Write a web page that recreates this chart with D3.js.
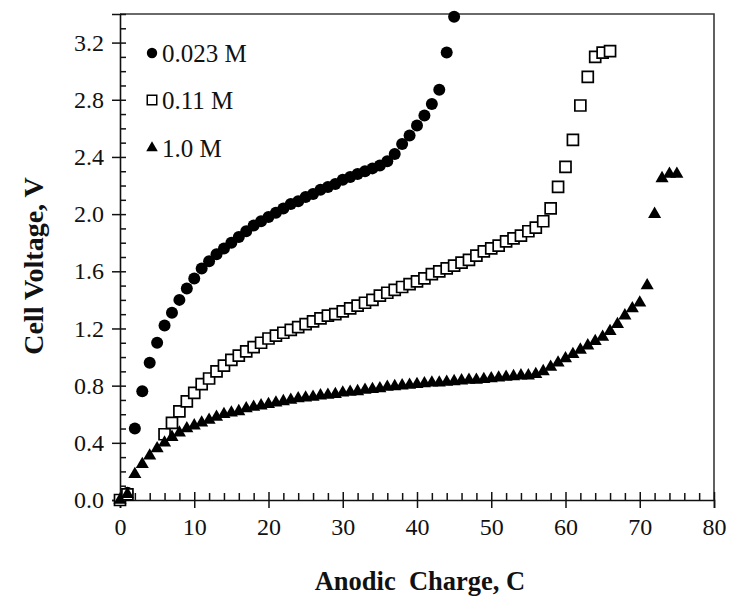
<!DOCTYPE html>
<html>
<head>
<meta charset="utf-8">
<script src="https://cdn.jsdelivr.net/npm/d3@7"></script>
<style>
  html, body { margin: 0; padding: 0; background: #fff; }
  svg { display: block; }
</style>
</head>
<body>
<svg id="chart" width="730" height="597"></svg>
<script>
// ---- data ----
const seriesNames = ["0.023 M", "0.11 M", "1.0 M"];

const chargeA = [0,1,2,3,4,5,6,7,8,9,10,11,12,13,14,15,16,17,18,19,20,21,22,23,24,25,26,27,28,29,30,31,32,33,34,35,36,37,38,39,40,41,42,43,44,45];
const voltA   = [0.00,0.05,0.50,0.76,0.96,1.10,1.22,1.31,1.40,1.48,1.55,1.62,1.67,1.72,1.76,1.80,1.84,1.88,1.92,1.95,1.98,2.01,2.04,2.07,2.09,2.12,2.14,2.17,2.19,2.21,2.24,2.26,2.28,2.30,2.32,2.34,2.37,2.42,2.49,2.55,2.62,2.69,2.77,2.87,3.13,3.38];

const chargeB = [0,1,6,7,8,9,10,11,12,13,14,15,16,17,18,19,20,21,22,23,24,25,26,27,28,29,30,31,32,33,34,35,36,37,38,39,40,41,42,43,44,45,46,47,48,49,50,51,52,53,54,55,56,57,58,59,60,61,62,63,64,65,66];
const voltB   = [0.00,0.04,0.46,0.54,0.62,0.69,0.75,0.81,0.85,0.90,0.94,0.98,1.01,1.04,1.07,1.10,1.13,1.15,1.17,1.19,1.21,1.23,1.25,1.27,1.29,1.30,1.32,1.34,1.36,1.38,1.40,1.43,1.45,1.47,1.49,1.51,1.53,1.55,1.58,1.60,1.62,1.64,1.66,1.68,1.71,1.74,1.76,1.78,1.81,1.83,1.85,1.88,1.905,1.95,2.04,2.19,2.33,2.52,2.76,2.96,3.10,3.13,3.14];

const chargeC = [0,1,2,3,4,5,6,7,8,9,10,11,12,13,14,15,16,17,18,19,20,21,22,23,24,25,26,27,28,29,30,31,32,33,34,35,36,37,38,39,40,41,42,43,44,45,46,47,48,49,50,51,52,53,54,55,56,57,58,59,60,61,62,63,64,65,66,67,68,69,70,71,72,73,74,75];
const voltC   = [0.00,0.04,0.18,0.25,0.31,0.36,0.40,0.44,0.47,0.50,0.52,0.54,0.56,0.58,0.60,0.61,0.62,0.64,0.65,0.66,0.67,0.68,0.69,0.70,0.71,0.715,0.72,0.73,0.735,0.74,0.75,0.755,0.76,0.77,0.775,0.78,0.79,0.795,0.80,0.805,0.81,0.815,0.82,0.82,0.825,0.83,0.835,0.84,0.84,0.845,0.85,0.855,0.86,0.865,0.87,0.87,0.88,0.90,0.93,0.96,0.99,1.02,1.05,1.08,1.11,1.14,1.18,1.23,1.29,1.34,1.38,1.50,2.00,2.25,2.28,2.28];

const xTicks = [0,10,20,30,40,50,60,70,80];
const yTicks = [0.0,0.4,0.8,1.2,1.6,2.0,2.4,2.8,3.2];
const xTitle = "Anodic\u00A0 Charge, C";
const yTitle = "Cell Voltage, V";

// ---- layout ----
const svg = d3.select("#chart");
const x = d3.scaleLinear().domain([0, 80]).range([120, 714]);
const y = d3.scaleLinear().domain([0, 3.4]).range([500, 14]);
const serif = "'Liberation Serif', 'Times New Roman', serif";

// frame (top + right)
svg.append("path")
  .attr("d", `M${x(0)},${y(3.4)}H${x(80)}V${y(0)}`)
  .attr("fill", "none").attr("stroke", "#3a3a3a").attr("stroke-width", 1.6);

// minor ticks
const xMinor = d3.range(0, 80.01, 2).filter(v => v % 10 !== 0);
const yMinor = d3.range(0, 3.41, 0.1).map(v => +v.toFixed(1)).filter(v => Math.abs(v*10 % 4) > 0.01);

const gx = svg.append("g").attr("transform", `translate(0,${y(0)})`);
gx.call(d3.axisBottom(x).tickValues(xMinor).tickSize(-7).tickFormat(""));
gx.call(g => g.selectAll(".tick line").attr("stroke", "#111").attr("stroke-width", 1.5));
const gx2 = svg.append("g").attr("transform", `translate(0,${y(0)})`);
gx2.call(d3.axisBottom(x).tickValues(xTicks).tickSize(8).tickPadding(10).tickFormat(d3.format("d")));
gx2.selectAll(".tick line").attr("y1", -8).attr("stroke", "#111").attr("stroke-width", 1.5);
gx2.select(".domain").attr("stroke", "#111").attr("stroke-width", 1.6);
gx2.selectAll(".tick text").attr("font-family", serif).attr("font-size", 24).attr("fill", "#111");

const gy = svg.append("g").attr("transform", `translate(${x(0)},0)`);
gy.call(d3.axisLeft(y).tickValues(yMinor).tickSize(-6).tickFormat(""));
gy.selectAll(".tick line").attr("stroke", "#111").attr("stroke-width", 1.5);
const gy2 = svg.append("g").attr("transform", `translate(${x(0)},0)`);
gy2.call(d3.axisLeft(y).tickValues(yTicks).tickSize(8).tickPadding(8).tickFormat(d3.format(".1f")));
gy2.selectAll(".tick line").attr("x1", 6).attr("stroke", "#111").attr("stroke-width", 1.5);
gy2.select(".domain").attr("stroke", "#111").attr("stroke-width", 1.6);
gy2.selectAll(".tick text").attr("font-family", serif).attr("font-size", 24).attr("fill", "#111");

// axis titles
svg.append("text")
  .attr("x", 420).attr("y", 590)
  .attr("text-anchor", "middle")
  .attr("font-family", serif).attr("font-weight", "bold").attr("font-size", 26.5)
  .attr("fill", "#111")
  .text(xTitle);
svg.append("text")
  .attr("transform", `translate(43,266) rotate(-90)`)
  .attr("text-anchor", "middle")
  .attr("font-family", serif).attr("font-weight", "bold").attr("font-size", 28)
  .attr("fill", "#111")
  .text(yTitle);

// series
const circ = d3.symbol().type(d3.symbolCircle).size(Math.PI * 6 * 6);
const sq = d3.symbol().type(d3.symbolSquare).size(11 * 11);
const tri = d3.symbol().type(d3.symbolTriangle).size(74);

const dataA = chargeA.map((c, i) => ({c, v: voltA[i]}));
const dataB = chargeB.map((c, i) => ({c, v: voltB[i]}));
const dataC = chargeC.map((c, i) => ({c, v: voltC[i]}));

svg.append("g").selectAll("path").data(dataA).join("path")
  .attr("d", circ).attr("transform", d => `translate(${x(d.c)},${y(d.v)})`)
  .attr("fill", "#000");
svg.append("g").selectAll("path").data(dataB).join("path")
  .attr("d", sq).attr("transform", d => `translate(${x(d.c)},${y(d.v)})`)
  .attr("fill", "#fff").attr("stroke", "#000").attr("stroke-width", 1.7);
svg.append("g").selectAll("path").data(dataC).join("path")
  .attr("d", tri).attr("transform", d => `translate(${x(d.c)},${y(d.v)})`)
  .attr("fill", "#000");

// legend
const legend = [
  {name: seriesNames[0], sym: d3.symbol().type(d3.symbolCircle).size(Math.PI * 5.2 * 5.2), fill: "#000", stroke: "none", ly: 53},
  {name: seriesNames[1], sym: d3.symbol().type(d3.symbolSquare).size(90), fill: "#fff", stroke: "#000", ly: 100},
  {name: seriesNames[2], sym: d3.symbol().type(d3.symbolTriangle).size(58), fill: "#000", stroke: "none", ly: 148}
];
const lg = svg.append("g");
legend.forEach(l => {
  lg.append("path").attr("d", l.sym).attr("transform", `translate(152,${l.ly})`)
    .attr("fill", l.fill).attr("stroke", l.stroke).attr("stroke-width", 1.5);
  lg.append("text").attr("x", 162).attr("y", l.ly + 8.5)
    .attr("font-family", serif).attr("font-size", 25).attr("fill", "#111")
    .text(l.name);
});
</script>
</body>
</html>
